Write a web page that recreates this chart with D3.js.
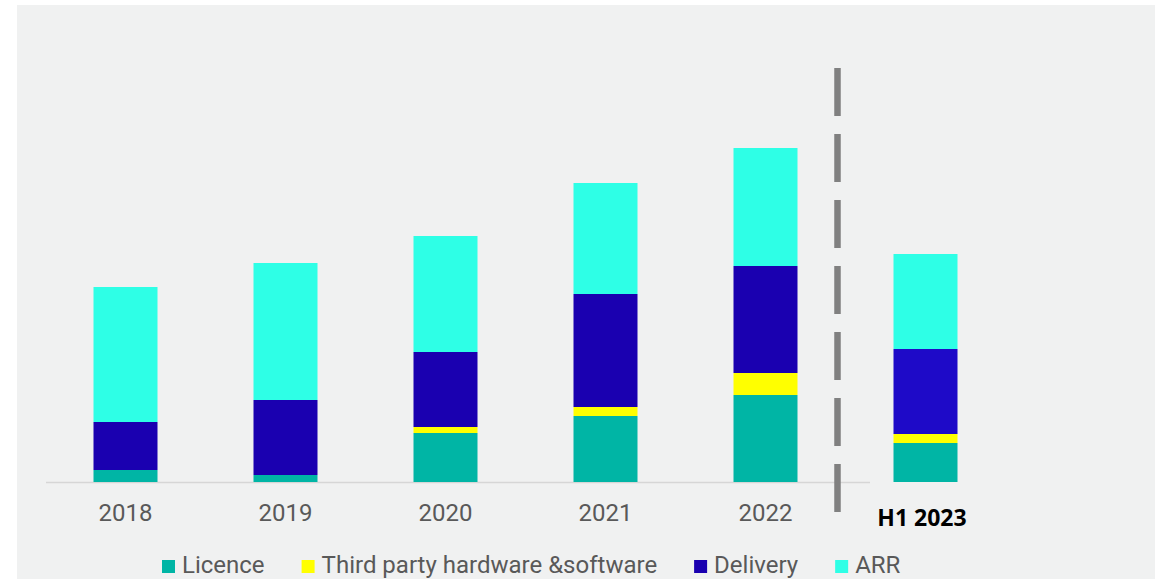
<!DOCTYPE html>
<html>
<head>
<meta charset="utf-8">
<script src="https://cdn.jsdelivr.net/npm/d3@7"></script>
<style>
  body { margin: 0; background: #fff; }
  svg { display: block; }
</style>
</head>
<body>
<div id="chart"></div>
<script>
const categories = ["2018", "2019", "2020", "2021", "2022", "H1 2023"];
const seriesNames = ["Licence", "Third party hardware &software", "Delivery", "ARR"];
const licence =  [12, 7, 49, 66, 87, 39];
const thirdParty = [0, 0, 6, 9, 22, 9];
const delivery = [48, 75, 75, 113, 107, 85];
const arr =      [135, 137, 116, 111, 118, 95];
const colors = ["#00b5a5", "#ffff00", "#1a00b0", "#2effe6"];

const width = 1165;
const height = 579;

const rows = categories.map((c, i) => ({
  cat: c,
  "Licence": licence[i],
  "Third party hardware &software": thirdParty[i],
  "Delivery": delivery[i],
  "ARR": arr[i]
}));

const svg = d3.select("#chart")
  .append("svg")
  .attr("width", width)
  .attr("height", height);

// panel background
svg.append("rect")
  .attr("x", 17).attr("y", 5)
  .attr("width", 1138).attr("height", height - 5)
  .style("fill", "#f0f1f1");

const x = d3.scaleBand()
  .domain(categories)
  .range([45.5, 1005.5])
  .paddingInner(0.6)
  .paddingOuter(0.3);

const baseY = 482;
const y = d3.scaleLinear()
  .domain([0, 350])
  .range([baseY, baseY - 350]);

const stacked = d3.stack().keys(seriesNames)(rows);

// baseline (axis stops just past the dashed divider)
svg.append("line")
  .attr("x1", 46).attr("x2", 870)
  .attr("y1", baseY + 0.5).attr("y2", baseY + 0.5)
  .style("stroke", "#d6d6d6")
  .style("stroke-width", 1.5);

svg.append("g")
  .selectAll("g")
  .data(stacked)
  .enter()
  .append("g")
  .each(function(s, si) {
    d3.select(this).selectAll("rect")
      .data(s)
      .enter()
      .append("rect")
      .attr("x", d => x(d.data.cat))
      .attr("width", x.bandwidth())
      .attr("y", d => y(d[1]))
      .attr("height", d => y(d[0]) - y(d[1]))
      .style("fill", d => (d.data.cat === "H1 2023" && s.key === "Delivery") ? "#1e0ac8" : colors[si]);
  });

// dashed divider between 2022 and H1 2023
const divX = x("2022") + x.bandwidth() + 40;
svg.append("line")
  .attr("x1", divX).attr("x2", divX)
  .attr("y1", 68).attr("y2", 512)
  .style("stroke", "#808080")
  .style("stroke-width", 6.5)
  .style("stroke-dasharray", "48 18");

// category labels
svg.append("g")
  .selectAll("text")
  .data(categories)
  .enter()
  .append("text")
  .attr("x", d => x(d) + x.bandwidth() / 2 - (d === "H1 2023" ? 3.5 : 0))
  .attr("y", d => d === "H1 2023" ? 526 : 521)
  .attr("text-anchor", "middle")
  .style("font-family", d => d === "H1 2023" ? "'Open Sans', sans-serif" : "Roboto, sans-serif")
  .style("font-weight", d => d === "H1 2023" ? 700 : 400)
  .style("font-size", d => d === "H1 2023" ? "23px" : "24px")
  .style("fill", d => d === "H1 2023" ? "#000" : "#595959")
  .text(d => d);

// legend
const legend = svg.append("g");
let lx = 162;
seriesNames.forEach((name, i) => {
  legend.append("rect")
    .attr("x", lx).attr("y", 560)
    .attr("width", 13).attr("height", 13)
    .style("fill", colors[i]);
  const t = legend.append("text")
    .attr("x", lx + 20).attr("y", 573)
    .style("font-family", "Roboto, sans-serif")
    .style("font-size", "24px")
    .style("fill", "#595959")
    .text(name);
  lx += 20 + t.node().getComputedTextLength() + 37;
});
</script>
</body>
</html>
